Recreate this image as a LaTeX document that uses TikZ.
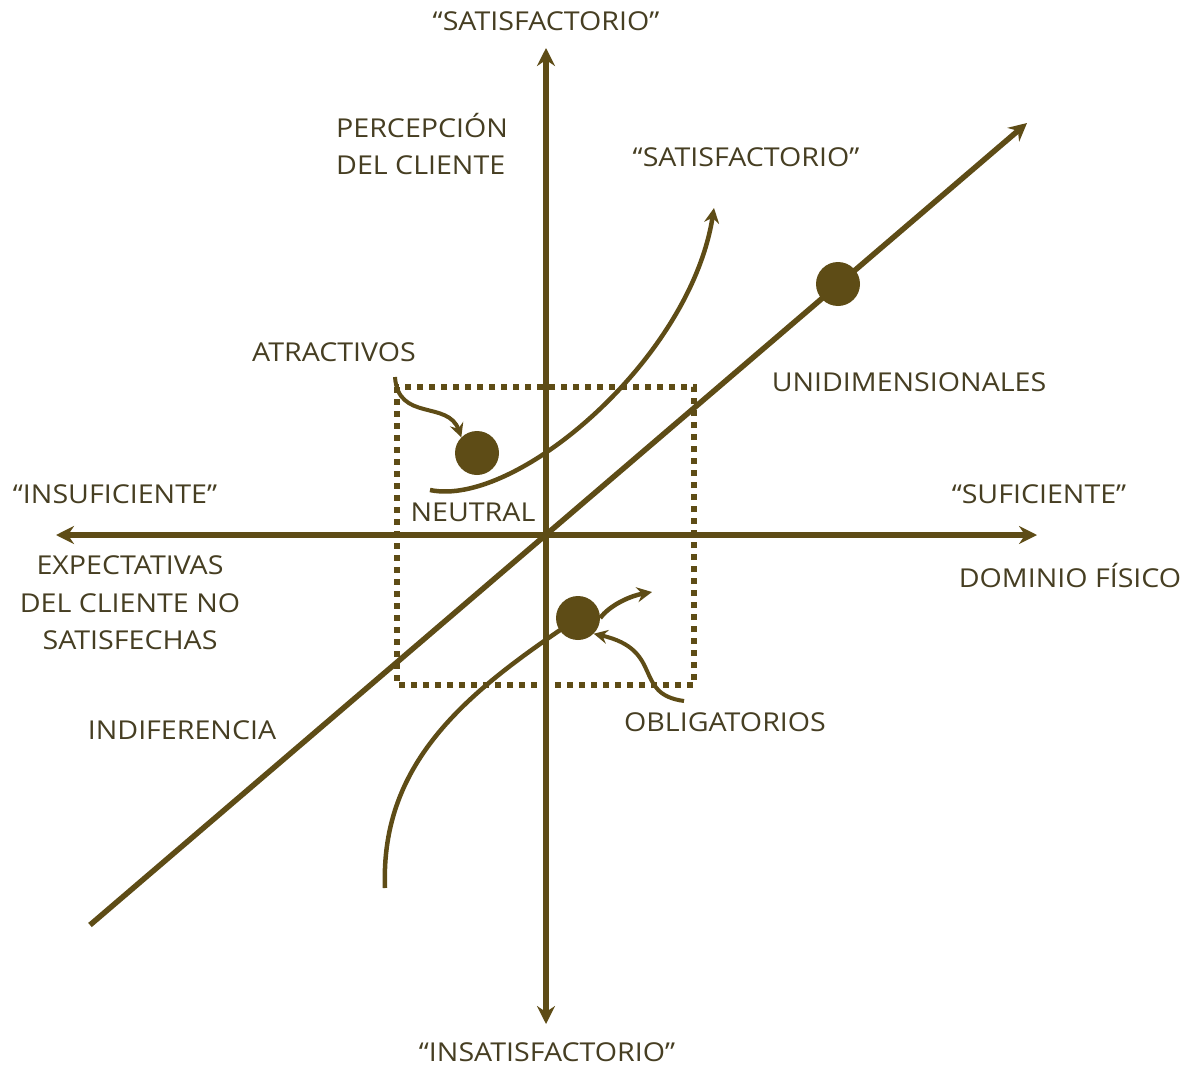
\documentclass[tikz,border=0pt]{standalone}
\usepackage{fontspec}
\setmainfont{Open Sans}[FakeStretch=1.1]
\usetikzlibrary{arrows.meta}
\definecolor{kcol}{RGB}{94,76,22}
\definecolor{tcol}{RGB}{70,62,34}
\begin{document}
\begin{tikzpicture}[x=1pt,y=-1pt,
  axisline/.style={draw=kcol, line width=5.5pt, {Stealth[length=18pt,width=18pt,inset=6pt]}-{Stealth[length=18pt,width=18pt,inset=6pt]}},
  diagline/.style={draw=kcol, line width=5.5pt, -{Stealth[length=18pt,width=18pt,inset=6pt]}},
  curveline/.style={draw=kcol, line width=4.5pt, -{Stealth[length=15pt,width=15pt,inset=5pt]}},
  pointer/.style={draw=kcol, line width=4pt, -{Stealth[length=14pt,width=14pt,inset=5pt]}},
  dotbox/.style={draw=kcol, line width=6pt, dash pattern=on 6pt off 6pt},
  bigdot/.style={circle, fill=kcol, minimum size=44pt, inner sep=0pt},
  lbl/.style={text=tcol, font=\fontsize{26}{37}\selectfont, inner sep=0pt, anchor=base},
  lblw/.style={lbl, anchor=base west}]
\useasboundingbox (0,0) rectangle (1185,1070);

% coordinates
\coordinate (vtop) at (546,48);
\coordinate (vbot) at (546,1024);
\coordinate (hleft) at (56,535);
\coordinate (hright) at (1037,535);
\coordinate (dstart) at (90,925);
\coordinate (dend) at (1027,123);

% dotted box
\draw[dotbox] (397,387) rectangle (694,685);

% axes
\draw[axisline] (vbot) -- (vtop);
\draw[axisline] (hleft) -- (hright);
\draw[diagline] (dstart) -- (dend);

% dots
\node[bigdot] (dU) at (838,284) {};
\node[bigdot] (dA) at (477,453) {};
\node[bigdot] (dO) at (578,618) {};

% attractive curve
\coordinate (aS) at (430,490);
\coordinate (aE) at (714,208);
\draw[curveline] (aS) .. controls (515,508) and (690,360) .. (aE);

% obligatory curve
\coordinate (oS) at (385,888);
\draw[draw=kcol, line width=4.5pt] (oS) .. controls (380,760) and (470,690) .. (dO.center);
\coordinate (oE) at (652,592);
\draw[curveline] (dO.east) .. controls (610,605) and (630,596) .. (oE);

% pointers
\coordinate (pA) at (395,377);
\draw[pointer] (pA) .. controls (398,422) and (448,400) .. (dA.north west);
\coordinate (pO) at (684,701);
\draw[pointer] (pO) .. controls (632,694) and (665,650) .. (dO.south east);

% labels
\node[lbl] (tTop) at (546,31) {“SATISFACTORIO”};
\node[lblw] (tPer1) at (336,137) {PERCEPCIÓN};
\node[lblw] (tPer2) at (336,174) {DEL CLIENTE};
\node[lbl] (tSat2) at (746,166) {“SATISFACTORIO”};
\node[lbl] (tAtr) at (334,361) {ATRACTIVOS};
\node[lbl] (tUni) at (909,391) {UNIDIMENSIONALES};
\node[lbl] (tIns) at (115,503) {“INSUFICIENTE”};
\node[lbl] (tSuf) at (1039,503) {“SUFICIENTE”};
\node[lbl] (tNeu) at (473,521) {NEUTRAL};
\node[lbl] (tExp1) at (130,574) {EXPECTATIVAS};
\node[lbl] (tExp2) at (130,612) {DEL CLIENTE NO};
\node[lbl] (tExp3) at (130,649) {SATISFECHAS};
\node[lbl] (tDom) at (1070,587) {DOMINIO FÍSICO};
\node[lbl] (tInd) at (182,739) {INDIFERENCIA};
\node[lbl] (tObl) at (725,731) {OBLIGATORIOS};
\node[lbl] (tInsat) at (547,1061) {“INSATISFACTORIO”};
\end{tikzpicture}
\end{document}
